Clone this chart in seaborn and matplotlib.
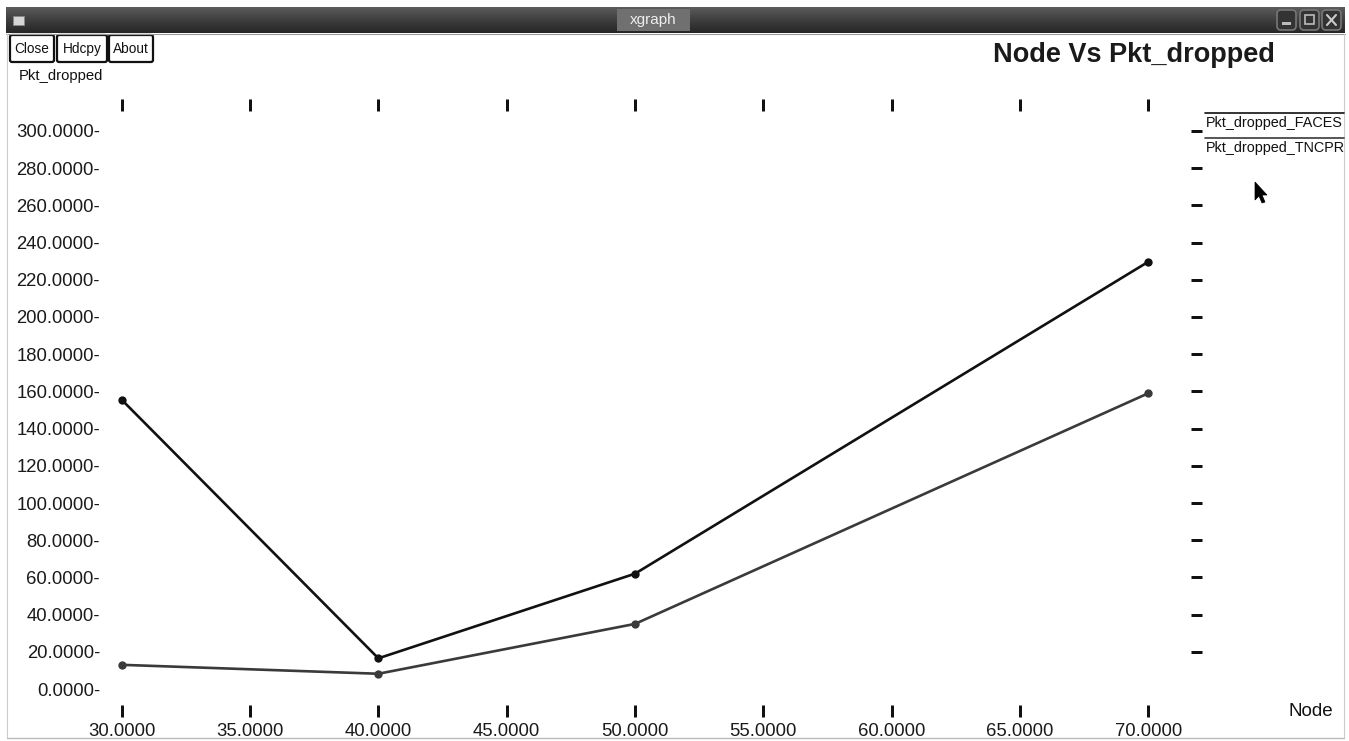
import numpy as np
import pandas as pd
import matplotlib.pyplot as plt
import seaborn as sns
from matplotlib.patches import Rectangle, FancyBboxPatch, Polygon
from matplotlib.colors import LinearSegmentedColormap

# --- datos ---
nodes = [30, 40, 50, 70]
faces = [155.5, 16.5, 62, 229.7]
tncpr = [13, 8.2, 35, 159]
series_names = ["Pkt_dropped_FACES", "Pkt_dropped_TNCPR"]
series_colors = ["#111111", "#3a3a3a"]
x_ticks = [30, 35, 40, 45, 50, 55, 60, 65, 70]
y_ticks = list(range(0, 301, 20))
buttons = ["Close", "Hdcpy", "About"]

W, H = 1349, 741

sns.set_style("white")
plt.rcParams['font.family'] = ['Liberation Sans', 'DejaVu Sans']

fig = plt.figure(figsize=(W / 100, H / 100), dpi=100)
fig.patch.set_facecolor('white')

# capa de decoracion en pixeles (ventana xgraph)
deco = fig.add_axes([0, 0, 1, 1], zorder=0)
deco.axis('off')
cmap = LinearSegmentedColormap.from_list('bar', ['#5c5c5c', '#3e3e3e', '#262626'])
deco.imshow(np.linspace(0, 1, 60)[:, None], cmap=cmap, aspect='auto',
            extent=[6, 1345, 33, 7])
deco.set_xlim(0, W)
deco.set_ylim(H, 0)
deco.plot([6, 1345], [33.5, 33.5], color='#9a9a9a', lw=0.8)

# titulo de la ventana
deco.add_patch(Rectangle((617, 9), 73, 22, facecolor='#707070', edgecolor='none'))
deco.text(653, 20, "xgraph", color='#eeeeee', fontsize=11, ha='center', va='center')
deco.add_patch(Rectangle((13, 16), 11, 9, facecolor='#d5d5d5', edgecolor='#888888', lw=0.6))

# botones de la ventana (arriba a la derecha)
for x0 in [1277, 1300, 1322]:
    deco.add_patch(FancyBboxPatch((x0, 10), 19, 20, boxstyle="round,pad=0,rounding_size=4",
                                  facecolor='#333333', edgecolor='#777777', lw=1.2))
deco.add_patch(Rectangle((1282, 22), 9, 3, facecolor='#bbbbbb', edgecolor='none'))
deco.add_patch(Rectangle((1305, 15), 9, 9, facecolor='none', edgecolor='#bbbbbb', lw=1.2))
deco.plot([1327, 1336], [15, 25], color='#cccccc', lw=1.5)
deco.plot([1327, 1336], [25, 15], color='#cccccc', lw=1.5)

# bordes de la ventana
deco.plot([7, 7], [34, 738], color='#cccccc', lw=0.8)
deco.plot([1344, 1344], [34, 738], color='#cccccc', lw=0.8)
deco.plot([7, 1344], [738, 738], color='#bbbbbb', lw=1.0)

# botones Close / Hdcpy / About
for label, (x0, x1) in zip(buttons, [(10, 54), (57, 107), (109, 153)]):
    deco.add_patch(FancyBboxPatch((x0, 35), x1 - x0, 27, boxstyle="round,pad=0,rounding_size=2",
                                  facecolor='white', edgecolor='#111111', lw=1.6))
    deco.text((x0 + x1) / 2, 49, label, fontsize=9.8, ha='center', va='center', color='#111111')

# etiquetas de ejes y titulo
deco.text(19, 76, "Pkt_dropped", fontsize=10.7, ha='left', va='center', color='#111111')
deco.text(1288, 712, "Node", fontsize=13.5, ha='left', va='center', color='#111111')
deco.text(1134, 62, "Node Vs Pkt_dropped", fontsize=19.5, fontweight='bold',
          ha='center', va='baseline', color='#1a1a1a')

# leyenda al estilo xgraph (linea encima del nombre)
for name, color, yl in zip(series_names, series_colors, [113, 137.5]):
    deco.plot([1205, 1344], [yl, yl], color=color, lw=1.2)
    deco.text(1206, yl + 10.5, name, fontsize=10.4, ha='left', va='center', color='#111111')

# cursor del raton
deco.add_patch(Polygon([(1255, 182), (1255, 200), (1259, 196), (1262, 203), (1265, 202),
                        (1262, 195), (1267, 195)], closed=True, facecolor='black',
                       edgecolor='black', lw=0.5))

# --- grafico principal ---
ax = fig.add_axes([100 / W, 1 - 717 / H, (1202 - 100) / W, (717 - 99) / H], zorder=1)
ax.patch.set_alpha(0)

df = pd.DataFrame({
    'Node': nodes * 2,
    'Pkt_dropped': faces + tncpr,
    'series': [series_names[0]] * len(nodes) + [series_names[1]] * len(nodes),
})
sns.lineplot(data=df, x='Node', y='Pkt_dropped', hue='series', palette=series_colors,
             marker='o', markersize=6, markeredgewidth=0, linewidth=1.9,
             legend=False, ax=ax)
for line in ax.lines:
    line.set_clip_on(False)

ax.set_xlim(29.154, 72.092)
ax.set_ylim(-15.05, 317.2)
ax.set_xticks(x_ticks)
ax.set_xticklabels([f"{v:.4f}" for v in x_ticks])
ax.set_yticks(y_ticks)
ax.set_yticklabels([f"{v:.4f}-" for v in y_ticks])
ax.tick_params(axis='x', direction='in', length=12 * 0.72, width=3 * 0.72, color='#111111',
               bottom=True, top=True, labelsize=13.3, pad=4, labelcolor='#1a1a1a')
ax.tick_params(axis='y', direction='in', left=False, right=True, length=11 * 0.72,
               width=3 * 0.72, color='#111111', labelsize=13.3, pad=0, labelcolor='#1a1a1a')
ax.yaxis.get_major_ticks()[0].tick2line.set_visible(False)
for s in ax.spines.values():
    s.set_visible(False)
ax.set_xlabel('')
ax.set_ylabel('')
ax.grid(False)

fig.savefig("out.png", dpi=100)
